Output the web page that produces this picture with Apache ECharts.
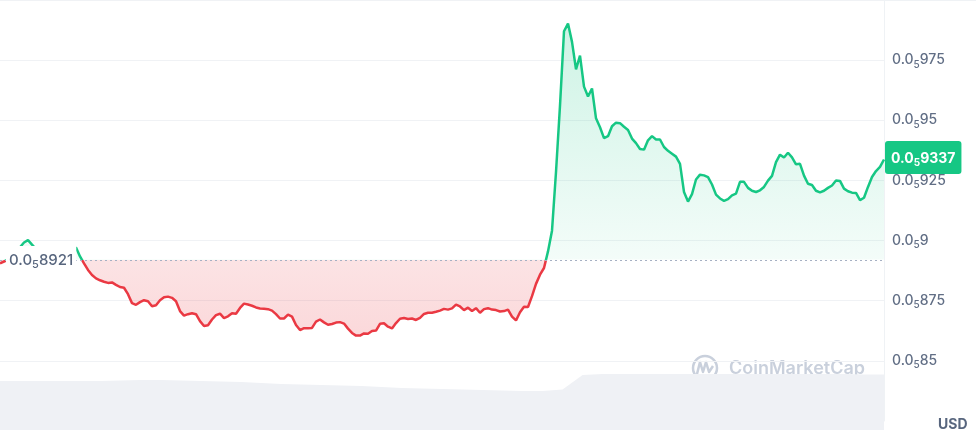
<!DOCTYPE html>
<html>
<head>
<meta charset="utf-8">
<script src="https://cdn.jsdelivr.net/npm/echarts@6/dist/echarts.min.js"></script>
<style>
  html, body { margin: 0; padding: 0; background: #fff; }
  #chart { width: 976px; height: 438px; }
</style>
</head>
<body>
<div id="chart"></div>
<script>
// price in micro-USD (0.0₅9337 USD = 9.337 µUSD)
const prices = [
  8.905, 8.913, 8.921, 8.938, 8.955, 8.972, 8.992, 9.002, 8.983, 8.965,
  8.946, 8.934, 8.921, 8.913, 8.905, 8.913, 8.921, 8.942, 8.963, 8.971,
  8.934, 8.905, 8.878, 8.857, 8.843, 8.835, 8.829, 8.824, 8.826, 8.816,
  8.807, 8.804, 8.777, 8.740, 8.733, 8.744, 8.752, 8.748, 8.727, 8.731,
  8.752, 8.764, 8.767, 8.762, 8.748, 8.707, 8.688, 8.694, 8.698, 8.694,
  8.665, 8.645, 8.648, 8.672, 8.690, 8.696, 8.678, 8.685, 8.698, 8.696,
  8.720, 8.738, 8.734, 8.729, 8.722, 8.718, 8.717, 8.715, 8.709, 8.694,
  8.676, 8.676, 8.692, 8.684, 8.649, 8.628, 8.636, 8.636, 8.637, 8.663,
  8.672, 8.660, 8.650, 8.653, 8.659, 8.661, 8.655, 8.634, 8.616, 8.605,
  8.605, 8.614, 8.613, 8.624, 8.626, 8.654, 8.656, 8.642, 8.635, 8.657,
  8.675, 8.678, 8.674, 8.676, 8.670, 8.679, 8.695, 8.700, 8.700, 8.704,
  8.709, 8.716, 8.713, 8.718, 8.734, 8.726, 8.711, 8.721, 8.707, 8.719,
  8.700, 8.715, 8.719, 8.713, 8.711, 8.705, 8.707, 8.713, 8.684, 8.668,
  8.702, 8.725, 8.724, 8.769, 8.820, 8.858, 8.886, 8.955, 9.041, 9.285,
  9.561, 9.870, 9.902, 9.826, 9.712, 9.769, 9.640, 9.599, 9.632, 9.508,
  9.471, 9.426, 9.434, 9.475, 9.490, 9.488, 9.473, 9.460, 9.424, 9.405,
  9.381, 9.378, 9.417, 9.434, 9.420, 9.420, 9.389, 9.373, 9.361, 9.349,
  9.319, 9.202, 9.162, 9.193, 9.254, 9.274, 9.271, 9.264, 9.233, 9.191,
  9.175, 9.165, 9.172, 9.188, 9.195, 9.244, 9.244, 9.219, 9.207, 9.202,
  9.209, 9.223, 9.249, 9.269, 9.326, 9.357, 9.345, 9.365, 9.346, 9.317,
  9.319, 9.270, 9.236, 9.231, 9.207, 9.200, 9.207, 9.219, 9.229, 9.250,
  9.248, 9.216, 9.205, 9.199, 9.198, 9.168, 9.178, 9.223, 9.264, 9.289,
  9.306, 9.337
];
const openPrice = 8.921;

// 24h volume, relative units
const volumes = [
  49, 49, 49, 49, 49, 49, 49.5, 50, 50, 49.5,
  49, 48.5, 48, 47, 46, 45.5, 45, 44.5, 44, 43,
  42, 41.5, 41, 40.5, 40, 39.5, 39, 39, 40.5, 55,
  56, 56, 56, 56, 56, 56, 56, 56, 56, 56,
  56, 56, 56, 55.5, 55.5
];

const yTicks = { min: 8.25, max: 10, step: 0.25 };

const GREEN = '#16c784';
const RED = '#ea3943';
const FONT = 'Inter, "Noto Sans", sans-serif';

const steps = prices.map((_, i) => String(i));
const volumeSteps = volumes.map((_, i) => String(i));
const lastIdx = prices.length - 1;

// 9.75 -> "0.0{z|5}975"
function subZero(v) {
  const digits = String(Math.round(v * 1000)).replace(/0+$/, '');
  return '0.0{z|5}' + digits;
}

const hi = Math.max(...prices);
const lo = Math.min(...prices);
const cut = (hi - openPrice) / (hi - lo);

const chart = echarts.init(document.getElementById('chart'));

const option = {
  animation: false,
  backgroundColor: '#fff',
  grid: [
    { left: 0, right: 92, top: -2, bottom: 17 },
    { left: 0, right: 92, top: 370, bottom: 8 }
  ],
  xAxis: [
    { type: 'category', data: steps, boundaryGap: false, show: false },
    { type: 'category', gridIndex: 1, data: volumeSteps, boundaryGap: false, show: false }
  ],
  yAxis: [
    {
      type: 'value',
      position: 'right',
      min: yTicks.min,
      max: yTicks.max,
      interval: yTicks.step,
      axisLine: { show: true, lineStyle: { color: '#eff2f5' } },
      axisTick: { show: false },
      splitLine: { lineStyle: { color: '#f0f2f5' } },
      axisLabel: {
        margin: 8,
        color: '#616e85',
        fontSize: 14,
        fontWeight: 500,
        fontFamily: FONT,
        formatter: v => (v < 8.4 || v > 9.9) ? '' : subZero(v),
        rich: {
          z: { fontSize: 10, fontWeight: 500, color: '#616e85', fontFamily: FONT, padding: [9, 0, 0, 0] }
        }
      }
    },
    { type: 'value', gridIndex: 1, min: 0, max: 60, show: false }
  ],
  visualMap: {
    show: false,
    type: 'piecewise',
    seriesIndex: 0,
    dimension: 1,
    pieces: [
      { gt: 0, lte: openPrice, color: RED },
      { gt: openPrice, lte: 100, color: GREEN }
    ]
  },
  series: [
    {
      type: 'line',
      data: prices,
      symbol: 'none',
      lineStyle: { width: 2.5 },
      areaStyle: {
        origin: openPrice,
        color: new echarts.graphic.LinearGradient(0, 0, 0, 1, [
          { offset: 0, color: 'rgba(22,199,132,0.30)' },
          { offset: cut, color: 'rgba(22,199,132,0.07)' },
          { offset: cut, color: 'rgba(234,57,67,0.20)' },
          { offset: 1, color: 'rgba(234,57,67,0.28)' }
        ])
      },
      markLine: {
        silent: true,
        symbol: 'none',
        label: { show: false },
        lineStyle: { type: [2, 3], color: '#a6b0c3', width: 1 },
        data: [{ yAxis: openPrice }]
      },
      markPoint: {
        silent: true,
        symbol: 'circle',
        symbolSize: 0,
        data: [
          {
            coord: [0, openPrice],
            label: {
              show: true,
              position: 'right',
              distance: 6,
              backgroundColor: '#fff',
              padding: [4, 3, 3, 3],
              color: '#58667e',
              fontSize: 15,
              fontWeight: 500,
              fontFamily: FONT,
              formatter: () => subZero(openPrice),
              rich: {
                z: { fontSize: 11, fontWeight: 500, color: '#58667e', fontFamily: FONT, padding: [9, 0, 0, 0] }
              }
            }
          },
          {
            coord: [lastIdx, prices[lastIdx]],
            label: {
              show: true,
              position: 'right',
              distance: 1,
              offset: [0, -2],
              backgroundColor: GREEN,
              borderRadius: 3,
              padding: [8, 6, 6, 6],
              color: '#fff',
              fontSize: 14,
              fontWeight: 'bold',
              fontFamily: FONT,
              formatter: () => subZero(prices[lastIdx]),
              rich: {
                z: { fontSize: 10, color: '#fff', fontWeight: 'bold', fontFamily: FONT, padding: [9, 0, 0, 0] }
              }
            }
          }
        ]
      }
    },
    {
      type: 'line',
      xAxisIndex: 1,
      yAxisIndex: 1,
      data: volumes,
      symbol: 'none',
      silent: true,
      lineStyle: { width: 0 },
      areaStyle: { color: '#eff1f5', opacity: 1 }
    }
  ],
  graphic: [
    {
      type: 'line',
      shape: { x1: 0, y1: 0.5, x2: 976, y2: 0.5 },
      style: { stroke: '#eff2f5', lineWidth: 1 }
    },
    {
      type: 'text',
      x: 938,
      y: 418,
      style: { text: 'USD', font: 'bold 14px ' + FONT, fill: '#58667e' }
    },
    {
      type: 'group',
      z: 10,
      children: [
        {
          type: 'circle',
          shape: { cx: 705, cy: 368, r: 12 },
          style: { fill: 'none', stroke: '#c9d0dc', lineWidth: 2.5 }
        },
        {
          type: 'polyline',
          shape: { points: [[697, 374], [700, 362], [703, 372], [706, 362], [709, 372], [713, 366]] },
          style: { fill: 'none', stroke: '#c9d0dc', lineWidth: 2.5, lineJoin: 'round' }
        },
        {
          type: 'text',
          x: 729,
          y: 369,
          style: {
            text: 'CoinMarketCap',
            font: '600 18px ' + FONT,
            fill: '#c9d0dc',
            verticalAlign: 'middle'
          }
        }
      ]
    }
  ]
};

chart.setOption(option);
</script>
</body>
</html>
